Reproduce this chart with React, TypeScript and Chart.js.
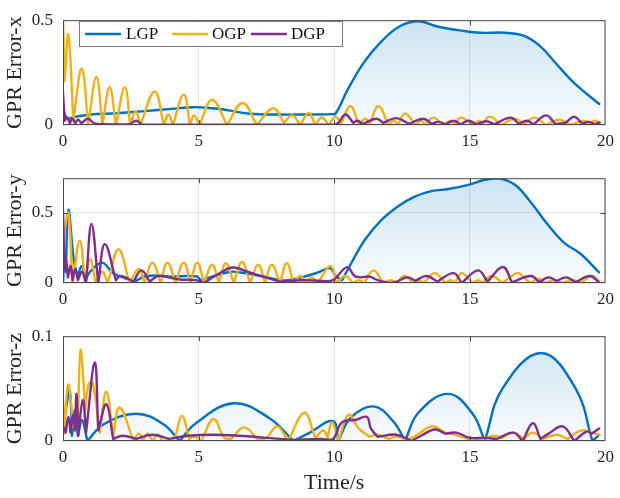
import React, { useEffect, useRef } from "react";
import { Chart, registerables } from "chart.js";

Chart.register(...registerables);

type P = [number, number];

// ---------------- DATA ----------------
const seriesNames = ["LGP", "OGP", "DGP"];
const xTickValues = [0, 5, 10, 15, 20];
const axisTitles = ["GPR Error-x", "GPR Error-y", "GPR Error-z"];
const yMaxes = [0.5, 0.745, 0.1];
const yTickValues = [[0, 0.5], [0, 0.5], [0, 0.1]];
const xTitle = "Time/s";

// Error-x
const lgpX: P[] = [
  [0, 0.08], [0.1, 0.04], [0.2, 0.03], [0.5, 0.04], [1, 0.05], [2, 0.056], [3, 0.066], [4, 0.077],
  [4.8, 0.085], [5.5, 0.08], [6.1, 0.07], [6.9, 0.054], [7.9, 0.05], [9, 0.05], [9.9, 0.052],
  [10.05, 0.055], [10.5, 0.17], [11.1, 0.3], [11.75, 0.4], [12.4, 0.47], [13.1, 0.495], [13.8, 0.47],
  [14.7, 0.45], [15.4, 0.44], [16.3, 0.44], [17.0, 0.425], [17.6, 0.375], [18.2, 0.29], [18.85, 0.2],
  [19.77, 0.1],
];
const ogpX: P[] = [
  [0, 0.5], [0.06, 0.21], [0.2, 0.43], [0.38, 0.02], [0.69, 0.27], [0.93, 0.0], [1.23, 0.23], [1.45, 0.0],
  [1.72, 0.18], [1.95, 0.0], [2.28, 0.18], [2.48, 0.0], [2.68, 0.065], [2.85, 0.0], [3.38, 0.16], [3.72, 0.0],
  [3.88, 0.05], [4.05, 0.0], [4.45, 0.145], [4.68, 0.0], [4.83, 0.045], [5.03, 0.0], [5.5, 0.12], [6.05, 0.0],
  [6.62, 0.105], [7.15, 0.0], [7.75, 0.08], [8.15, 0.01], [8.45, 0.046], [8.75, 0.0], [9.06, 0.057], [9.3, 0.0],
  [9.54, 0.036], [9.8, 0.0], [10.05, 0.04], [10.25, 0.005], [10.6, 0.09], [10.9, 0.0], [11.15, 0.03],
  [11.3, 0.0], [11.63, 0.09], [12.0, 0.0], [12.2, 0.02], [12.35, 0.0], [12.61, 0.055], [13.0, 0.0],
  [13.2, 0.02], [13.35, 0.0], [13.65, 0.035], [14.0, 0.0], [14.3, 0.02], [14.4, 0.0], [14.68, 0.035],
  [15.1, 0.0], [15.35, 0.02], [15.45, 0.0], [15.73, 0.04], [16.15, 0.0], [16.65, 0.03], [17.0, 0.005],
  [17.38, 0.035], [17.8, 0.0], [18.3, 0.025], [18.7, 0.0], [19.2, 0.02], [19.45, 0.005], [19.6, 0.02],
  [19.78, 0.01],
];
const dgpX: P[] = [
  [0, 0.155], [0.06, 0.02], [0.15, 0.035], [0.25, 0.008], [0.35, 0.03], [0.45, 0.008], [0.55, 0.025],
  [0.68, 0.008], [0.92, 0.03], [1.15, 0.008], [1.5, 0.004], [2.0, 0.003], [2.45, 0.004], [2.7, 0.02],
  [2.95, 0.002], [4, 0.002], [6, 0.002], [8, 0.002], [10, 0.002], [10.15, 0.01], [10.41, 0.05], [10.7, 0.01],
  [10.85, 0.02], [11.05, 0.005], [11.56, 0.03], [11.8, 0.01], [12.3, 0.033], [12.75, 0.005], [13.28, 0.03],
  [13.6, 0.005], [13.85, 0.015], [14.1, 0.003], [14.4, 0.02], [14.65, 0.003], [14.95, 0.02], [15.25, 0.003],
  [15.6, 0.018], [15.9, 0.003], [16.5, 0.035], [16.8, 0.005], [17.1, 0.02], [17.35, 0.003], [17.81, 0.046],
  [18.15, 0.005], [18.5, 0.01], [18.85, 0.039], [19.15, 0.005], [19.4, 0.015], [19.6, 0.003], [19.78, 0.012],
];

// Error-y
const lgpY: P[] = [
  [0, 0.0], [0.05, 0.17], [0.1, 0.08], [0.2, 0.52], [0.4, 0.16], [0.55, 0.04], [0.68, 0.12], [0.85, 0.03],
  [1.0, 0.08], [1.44, 0.145], [1.85, 0.07], [2.34, 0.03], [2.64, 0.01], [3.07, 0.05], [4.0, 0.045],
  [4.9, 0.048], [5.09, 0.02], [5.58, 0.05], [6.18, 0.08], [6.55, 0.075], [7.29, 0.05], [8.0, 0.02],
  [8.3, 0.02], [8.8, 0.04], [9.4, 0.075], [9.85, 0.105], [10.05, 0.05], [10.29, 0.02], [10.66, 0.153],
  [11.13, 0.307], [11.75, 0.45], [12.37, 0.548], [12.97, 0.614], [13.58, 0.653], [14.2, 0.668],
  [14.94, 0.697], [15.55, 0.734], [16.04, 0.745], [16.65, 0.7], [17.26, 0.57], [17.87, 0.416],
  [18.48, 0.285], [19.08, 0.208], [19.76, 0.076],
];
const ogpY: P[] = [
  [0, 0.2], [0.05, 0.35], [0.2, 0.5], [0.35, 0.0], [0.62, 0.3], [0.81, 0.0], [1.0, 0.17], [1.2, 0.0],
  [1.45, 0.08], [1.65, 0.0], [2.05, 0.24], [2.45, 0.0], [2.8, 0.1], [3.0, 0.0], [3.3, 0.145], [3.6, 0.0],
  [3.85, 0.145], [4.15, 0.0], [4.45, 0.145], [4.7, 0.0], [4.95, 0.145], [5.2, 0.0], [5.5, 0.13], [5.75, 0.0],
  [6.0, 0.14], [6.3, 0.0], [6.6, 0.15], [6.9, 0.0], [7.2, 0.13], [7.45, 0.0], [7.7, 0.13], [8.0, 0.0],
  [8.25, 0.14], [8.5, 0.0], [8.75, 0.05], [8.95, 0.0], [9.15, 0.04], [9.4, 0.0], [9.85, 0.12], [10.1, 0.0],
  [10.4, 0.05], [10.7, 0.0], [10.9, 0.02], [11.1, 0.0], [11.45, 0.09], [11.8, 0.0], [12.1, 0.02], [12.3, 0.0],
  [12.6, 0.05], [12.9, 0.0], [13.1, 0.02], [13.3, 0.0], [13.7, 0.07], [14.1, 0.0], [14.3, 0.02], [14.45, 0.0],
  [14.7, 0.07], [15.1, 0.0], [15.3, 0.02], [15.45, 0.0], [15.8, 0.05], [16.2, 0.0], [16.76, 0.07],
  [17.1, 0.02], [17.25, 0.0], [17.5, 0.03], [17.8, 0.0], [18.1, 0.02], [18.4, 0.0], [18.8, 0.02], [19.1, 0.0],
  [19.5, 0.05], [19.78, 0.01],
];
const dgpY: P[] = [
  [0, 0.52], [0.05, 0.1], [0.1, 0.17], [0.18, 0.04], [0.28, 0.12], [0.35, 0.02], [0.45, 0.1], [0.55, 0.02],
  [0.7, 0.08], [0.85, 0.0], [1.05, 0.42], [1.3, 0.0], [1.54, 0.276], [1.95, 0.02], [2.1, 0.05], [2.3, 0.04],
  [2.6, 0.01], [2.89, 0.09], [3.2, 0.01], [3.5, 0.05], [3.9, 0.04], [4.3, 0.025], [4.9, 0.02], [5.2, 0.0],
  [5.7, 0.06], [6.24, 0.11], [6.8, 0.08], [7.3, 0.05], [8.0, 0.01], [8.85, 0.02], [9.5, 0.015], [9.95, 0.02],
  [10.47, 0.113], [10.75, 0.05], [11.0, 0.04], [11.3, 0.045], [11.6, 0.02], [12.0, 0.0], [12.3, 0.01],
  [12.7, 0.04], [13.0, 0.015], [13.4, 0.05], [13.8, 0.01], [14.4, 0.07], [14.7, 0.0], [15.3, 0.09],
  [15.65, 0.01], [16.22, 0.114], [16.55, 0.005], [17.26, 0.05], [17.55, 0.005], [17.9, 0.04], [18.2, 0.015],
  [18.55, 0.04], [18.9, 0.005], [19.43, 0.05], [19.78, 0.0],
];

// Error-z
const lgpZ: P[] = [
  [0, 0.014], [0.1, 0.03], [0.25, 0.048], [0.33, 0.005], [0.45, 0.03], [0.55, 0.005], [0.7, 0.02], [0.9, 0.0],
  [1.5, 0.016], [2.7, 0.026], [3.7, 0.016], [4.3, 0.0], [4.9, 0.017], [6.28, 0.036], [7.6, 0.022], [8.5, 0.0],
  [9.1, 0.008], [9.95, 0.019], [10.15, 0.0], [10.6, 0.022], [11.45, 0.033], [12.2, 0.018], [12.61, 0.0],
  [13.1, 0.027], [14.2, 0.045], [15.1, 0.026], [15.55, 0.0], [16.2, 0.05], [17.63, 0.084], [18.9, 0.05],
  [19.52, 0.0], [19.77, 0.006],
];
const ogpZ: P[] = [
  [0, 0.039], [0.05, 0.007], [0.19, 0.054], [0.38, 0.013], [0.5, 0.03], [0.55, 0.02], [0.65, 0.087],
  [0.82, 0.03], [0.95, 0.055], [1.1, 0.055], [1.35, 0.008], [1.6, 0.047], [1.85, 0.005], [2.09, 0.032],
  [2.6, 0.0], [2.8, 0.007], [2.95, 0.0], [3.1, 0.007], [3.3, 0.0], [3.5, 0.006], [3.7, 0.0], [4.05, 0.0],
  [4.38, 0.024], [4.65, 0.002], [4.85, 0.004], [5.1, 0.0], [5.55, 0.021], [5.95, 0.003], [6.2, 0.002],
  [6.68, 0.013], [7.2, 0.001], [7.5, 0.003], [7.9, 0.014], [8.3, 0.0], [8.9, 0.027], [9.3, 0.003],
  [9.6, 0.01], [9.75, 0.003], [9.92, 0.018], [10.15, 0.0], [10.53, 0.025], [10.9, 0.012], [11.3, 0.004],
  [11.6, 0.006], [12.0, 0.002], [12.3, 0.004], [12.7, 0.001], [13.0, 0.005], [13.6, 0.014], [14.1, 0.008],
  [14.6, 0.005], [15.1, 0.0], [15.5, 0.002], [15.9, 0.005], [16.2, 0.003], [16.6, 0.008], [17.0, 0.002],
  [17.3, 0.008], [17.7, 0.002], [18.2, 0.006], [18.6, 0.002], [19.1, 0.01], [19.5, 0.008], [19.77, 0.006],
];
const dgpZ: P[] = [
  [0, 0.014], [0.1, 0.008], [0.2, 0.023], [0.28, 0.008], [0.37, 0.025], [0.44, 0.01], [0.5, 0.045],
  [0.56, 0.005], [0.73, 0.039], [0.85, 0.008], [1.17, 0.075], [1.3, 0.01], [1.6, 0.035], [1.85, 0.002],
  [2.2, 0.005], [2.7, 0.002], [3.3, 0.006], [3.9, 0.002], [4.6, 0.005], [5.5, 0.006], [6.5, 0.005],
  [7.5, 0.003], [8.5, 0.001], [9.5, 0.002], [9.95, 0.002], [10.29, 0.018], [10.78, 0.02], [11.2, 0.023],
  [11.35, 0.012], [11.6, 0.004], [12.3, 0.006], [12.85, 0.0], [13.2, 0.005], [13.7, 0.011], [14.1, 0.007],
  [14.5, 0.008], [15.0, 0.003], [15.5, 0.003], [16.0, 0.002], [16.6, 0.008], [16.95, 0.0], [17.32, 0.017],
  [17.6, 0.002], [17.9, 0.007], [18.42, 0.014], [18.85, 0.0], [19.3, 0.009], [19.5, 0.007], [19.77, 0.012],
];

// ---------------- STYLE ----------------
const FONT = '"Liberation Serif", "Times New Roman", Times, serif';
const TEXT = "#262626";
const LINE_COLORS = ["#0072BD", "#EDB120", "#7E2F8E"];
const FILL_RGB = ["0,114,189", "237,177,32", "126,47,142"];
const FILL_ALPHA: [number, number][] = [[0.2, 0.02], [0.07, 0.01], [0.06, 0.01]];

const framePlugin = {
  id: "frame",
  afterDatasetsDraw(chart: any) {
    const { ctx, chartArea } = chart;
    const { left, right, top, bottom } = chartArea;
    const xs = chart.scales.x;
    const ys = chart.scales.y;
    ctx.save();
    ctx.strokeStyle = "#4a4a4a";
    ctx.lineWidth = 1;
    ctx.strokeRect(left + 0.5, top + 0.5, right - left - 1, bottom - top - 1);
    const tl = 5;
    ctx.beginPath();
    xs.ticks.forEach((t: any) => {
      const px = Math.round(xs.getPixelForValue(t.value)) + 0.5;
      if (px <= left + 1 || px >= right - 1) return;
      ctx.moveTo(px, bottom);
      ctx.lineTo(px, bottom - tl);
      ctx.moveTo(px, top);
      ctx.lineTo(px, top + tl);
    });
    ys.ticks.forEach((t: any) => {
      const py = Math.round(ys.getPixelForValue(t.value)) + 0.5;
      if (py <= top + 1 || py >= bottom - 1) return;
      ctx.moveTo(left, py);
      ctx.lineTo(left + tl, py);
      ctx.moveTo(right, py);
      ctx.lineTo(right - tl, py);
    });
    ctx.stroke();
    ctx.restore();
  },
};

const legendPlugin = {
  id: "boxLegend",
  afterDraw(chart: any, _args: any, opts: any) {
    if (!opts || !opts.show) return;
    const { ctx } = chart;
    const bx = 79.5, by = 21.5, bw = 263, bh = 25;
    ctx.save();
    ctx.fillStyle = "#ffffff";
    ctx.fillRect(bx, by, bw, bh);
    ctx.strokeStyle = "#7a7a7a";
    ctx.lineWidth = 1;
    ctx.strokeRect(bx, by, bw, bh);
    const lineStarts = [85, 172, 251];
    const textStarts = [126, 212, 291];
    const cy = by + bh / 2;
    ctx.font = `17px ${FONT}`;
    ctx.textBaseline = "middle";
    ctx.textAlign = "left";
    chart.data.datasets.forEach((ds: any, i: number) => {
      ctx.strokeStyle = ds.borderColor;
      ctx.lineWidth = 2.4;
      ctx.beginPath();
      ctx.moveTo(lineStarts[i], cy);
      ctx.lineTo(lineStarts[i] + 36, cy);
      ctx.stroke();
      ctx.fillStyle = "#111";
      ctx.fillText(ds.label, textStarts[i], cy + 1);
    });
    ctx.restore();
  },
};

// Repeat each local minimum so the spline forms a cusp there (|.|-shaped arches).
function toPoints(pts: P[]) {
  const out: { x: number; y: number }[] = [];
  pts.forEach(([x, y], k) => {
    out.push({ x, y });
    if (k > 0 && k < pts.length - 1 && y < pts[k - 1][1] && y < pts[k + 1][1]) out.push({ x, y });
  });
  return out;
}

function makeDataset(i: number, pts: P[]) {
  return {
    label: seriesNames[i],
    data: toPoints(pts),
    borderColor: LINE_COLORS[i],
    borderWidth: 2.4,
    pointRadius: 0,
    tension: 0.4,
    borderJoinStyle: "round" as const,
    borderCapStyle: "round" as const,
    fill: "origin",
    order: 3 - i,
    backgroundColor: (c: any) => {
      const ch = c.chart;
      const a = ch.chartArea;
      if (!a) return "rgba(0,0,0,0)";
      const g = ch.ctx.createLinearGradient(0, a.top, 0, a.bottom);
      g.addColorStop(0, `rgba(${FILL_RGB[i]},${FILL_ALPHA[i][0]})`);
      g.addColorStop(1, `rgba(${FILL_RGB[i]},${FILL_ALPHA[i][1]})`);
      return g;
    },
  };
}

type PanelProps = {
  idx: number;
  series: P[][];
  top: number;
  height: number;
  xAxisHeight: number;
  showXTitle: boolean;
  showLegend: boolean;
};

function Panel({ idx, series, top, height, xAxisHeight, showXTitle, showLegend }: PanelProps) {
  const ref = useRef<HTMLCanvasElement | null>(null);
  useEffect(() => {
    if (!ref.current) return;
    const ticksY = yTickValues[idx];
    const chart = new Chart(ref.current, {
      type: "line",
      data: { datasets: series.map((s, i) => makeDataset(i, s)) as any },
      plugins: [framePlugin, legendPlugin],
      options: {
        animation: false,
        responsive: false,
        devicePixelRatio: 1,
        events: [],
        layout: { padding: { left: 0, right: 12, top: 12, bottom: 0 } },
        plugins: {
          legend: { display: false },
          tooltip: { enabled: false },
          filler: { drawTime: "beforeDatasetsDraw" },
          boxLegend: { show: showLegend },
        } as any,
        scales: {
          x: {
            type: "linear",
            min: 0,
            max: 20,
            afterBuildTicks: (s: any) => {
              s.ticks = xTickValues.map((v) => ({ value: v }));
            },
            afterFit: (s: any) => {
              s.height = xAxisHeight;
            },
            grid: { color: "#e4e4e4", lineWidth: 1, drawTicks: false },
            border: { display: false },
            ticks: {
              color: TEXT,
              font: { family: FONT, size: 17 },
              padding: 6,
              maxRotation: 0,
              autoSkip: false,
              callback: (v: any) => String(v),
            },
            title: {
              display: showXTitle,
              text: xTitle,
              color: TEXT,
              font: { family: FONT, size: 22 },
              padding: { top: 0, bottom: 2 },
            },
          },
          y: {
            type: "linear",
            min: 0,
            max: yMaxes[idx],
            afterBuildTicks: (s: any) => {
              s.ticks = ticksY.map((v) => ({ value: v }));
            },
            afterFit: (s: any) => {
              s.width = 63;
            },
            grid: { color: "#e4e4e4", lineWidth: 1, drawTicks: false },
            border: { display: false },
            ticks: {
              color: TEXT,
              font: { family: FONT, size: 17 },
              padding: 10,
              autoSkip: false,
              callback: (v: any) => String(v),
            },
            title: {
              display: true,
              text: axisTitles[idx],
              color: TEXT,
              font: { family: FONT, size: 22 },
              padding: { top: 2, bottom: 0 },
            },
          },
        },
      } as any,
    });
    return () => chart.destroy();
  }, [idx, series, xAxisHeight, showXTitle, showLegend]);
  return (
    <canvas
      ref={ref}
      width={620}
      height={height}
      style={{ position: "absolute", left: 0, top, width: 620, height }}
    />
  );
}

const panelSeries: P[][][] = [
  [lgpX, ogpX, dgpX],
  [lgpY, ogpY, dgpY],
  [lgpZ, ogpZ, dgpZ],
];

export default function App() {
  return (
    <div
      style={{
        position: "absolute",
        left: 0,
        top: 0,
        width: 620,
        height: 498,
        background: "#ffffff",
        overflow: "hidden",
      }}
    >
      <Panel idx={0} series={panelSeries[0]} top={0} height={150} xAxisHeight={25} showXTitle={false} showLegend={true} />
      <Panel idx={1} series={panelSeries[1]} top={158} height={150} xAxisHeight={25} showXTitle={false} showLegend={false} />
      <Panel idx={2} series={panelSeries[2]} top={316} height={182} xAxisHeight={57} showXTitle={true} showLegend={false} />
    </div>
  );
}
